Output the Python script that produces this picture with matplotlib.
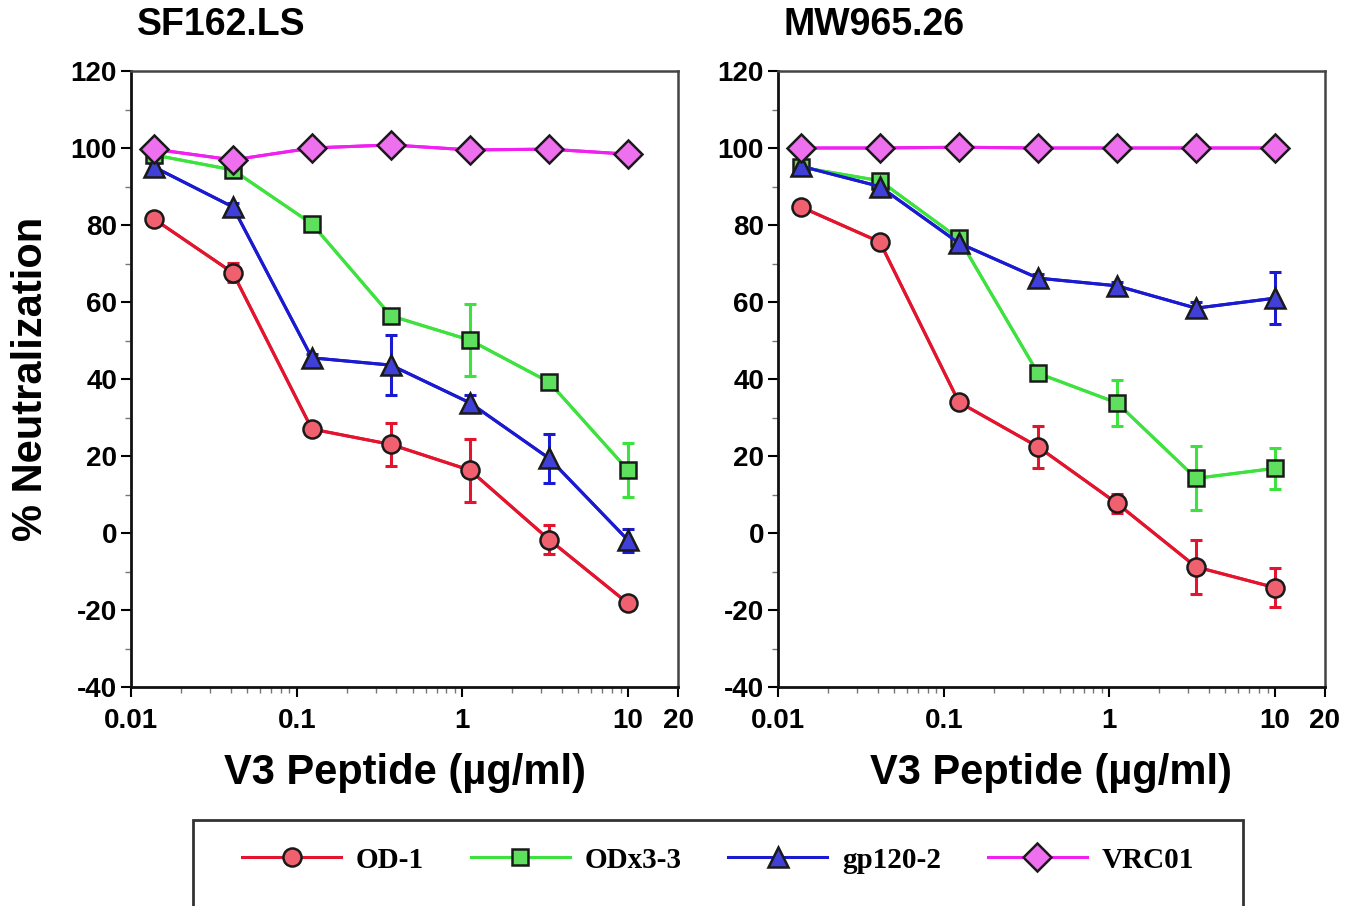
import matplotlib
matplotlib.use("Agg")
import matplotlib.pyplot as plt
import matplotlib.patches as mpatches
from matplotlib.ticker import FixedLocator, NullFormatter, FixedFormatter

plt.rcParams["axes.unicode_minus"] = False

# 3-fold dilutions of V3 peptide (ug/ml)
conc = [0.01372, 0.04115, 0.1235, 0.3704, 1.111, 3.333, 10.0]

panels = ["SF162.LS", "MW965.26"]
series = ["OD-1", "ODx3-3", "gp120-2", "VRC01"]

# SF162.LS
sf_od1      = [81.6, 67.6, 27.0, 23.0, 16.3, -1.7, -18.3]
sf_od1_err  = [1.0, 2.5, 1.0, 5.7, 8.2, 3.7, 1.0]
sf_odx      = [98.2, 94.3, 80.3, 56.4, 50.1, 39.2, 16.3]
sf_odx_err  = [1.0, 1.0, 1.0, 1.0, 9.3, 1.0, 7.0]
sf_gp       = [95.1, 84.7, 45.5, 43.6, 33.8, 19.4, -1.9]
sf_gp_err   = [1.0, 1.0, 1.0, 7.8, 2.0, 6.4, 3.0]
sf_vrc      = [99.7, 96.9, 100.0, 100.8, 99.5, 99.7, 98.4]
sf_vrc_err  = [0.5, 0.5, 0.5, 0.5, 0.5, 0.5, 0.5]

# MW965.26
mw_od1      = [84.7, 75.6, 34.0, 22.4, 7.7, -8.8, -14.2]
mw_od1_err  = [1.0, 1.0, 1.0, 5.5, 2.5, 7.0, 5.0]
mw_odx      = [95.0, 91.5, 76.5, 41.5, 33.8, 14.2, 16.8]
mw_odx_err  = [1.0, 1.0, 1.0, 1.0, 6.0, 8.3, 5.3]
mw_gp       = [95.3, 90.0, 75.3, 66.2, 64.2, 58.4, 61.0]
mw_gp_err   = [1.0, 1.0, 1.0, 1.0, 1.0, 1.5, 6.7]
mw_vrc      = [100.0, 100.0, 100.2, 100.0, 100.0, 100.0, 100.0]
mw_vrc_err  = [0.3, 0.3, 0.3, 0.3, 0.3, 0.3, 0.3]

STYLES = {
    "OD-1":    dict(color="#e3142e", marker="o", mfc="#f0606e", ms=13),
    "ODx3-3":  dict(color="#3ee23e", marker="s", mfc="#5ee05e", ms=12),
    "gp120-2": dict(color="#1a1ad0", marker="^", mfc="#4040d8", ms=14),
    "VRC01":   dict(color="#f020f0", marker="D", mfc="#ee70ee", ms=14),
}

data = {
    "SF162.LS": [(sf_od1, sf_od1_err), (sf_odx, sf_odx_err), (sf_gp, sf_gp_err), (sf_vrc, sf_vrc_err)],
    "MW965.26": [(mw_od1, mw_od1_err), (mw_odx, mw_odx_err), (mw_gp, mw_gp_err), (mw_vrc, mw_vrc_err)],
}

SANS = "Liberation Sans"
SERIF = "Liberation Serif"

fig = plt.figure(figsize=(13.57, 9.06), dpi=100)
ax_w = 547 / 1357
ax_h = 616 / 906
ax_b = 1 - 687 / 906
lefts = [131 / 1357, 778 / 1357]

handles = []
for i, name in enumerate(panels):
    ax = fig.add_axes([lefts[i], ax_b, ax_w, ax_h])
    for s, (vals, errs) in zip(series, data[name]):
        st = STYLES[s]
        ax.errorbar(conc, vals, yerr=errs, color=st["color"], lw=2.2,
                    elinewidth=2.2, capsize=4, capthick=2.2, zorder=2)
        ln, = ax.plot(conc, vals, color=st["color"], lw=2.2, marker=st["marker"],
                      ms=st["ms"], mfc=st["mfc"], mec="#1a1a1a", mew=1.8, zorder=3,
                      label=s)
        if i == 0:
            handles.append(ln)
    ax.set_xscale("log")
    ax.set_xlim(0.01, 20)
    ax.set_ylim(-40, 120)
    ax.xaxis.set_major_locator(FixedLocator([0.01, 0.1, 1, 10, 20]))
    ax.xaxis.set_major_formatter(FixedFormatter(["0.01", "0.1", "1", "10", "20"]))
    minors = [m * d for d in (0.01, 0.1, 1) for m in range(2, 10)]
    ax.xaxis.set_minor_locator(FixedLocator(minors))
    ax.xaxis.set_minor_formatter(NullFormatter())
    ax.set_yticks(range(-40, 121, 20))
    ax.yaxis.set_minor_locator(FixedLocator(range(-30, 120, 20)))
    ax.tick_params(which="major", direction="out", length=7, width=1.5,
                   labelsize=20, top=False, right=False, pad=3)
    ax.tick_params(axis="x", which="major", pad=8)
    ax.tick_params(which="minor", direction="out", length=4, width=1.0,
                   top=False, right=False, color="#777777")
    for lab in ax.get_xticklabels() + ax.get_yticklabels():
        lab.set_fontweight("bold")
        lab.set_fontfamily(SANS)
    for sp in ["left", "bottom"]:
        ax.spines[sp].set_linewidth(2.0)
        ax.spines[sp].set_color("#111111")
    for sp in ["top", "right"]:
        ax.spines[sp].set_linewidth(1.8)
        ax.spines[sp].set_color("#444444")
    ax.set_xlabel("V3 Peptide (µg/ml)", fontsize=30, fontweight="bold",
                  family=SANS, labelpad=14)
    ax.text(0.01, 1.045, name, transform=ax.transAxes, fontsize=27,
            fontweight="bold", family=SANS, ha="left", va="bottom")
    if i == 0:
        ax.set_ylabel("% Neutralization", fontsize=30, fontweight="bold",
                      family=SANS, labelpad=14)

# legend box, cut at the bottom edge like the original
box = mpatches.Rectangle((193 / 1357, -0.05), 1050 / 1357, (906 - 820) / 906 + 0.05,
                         transform=fig.transFigure, fill=False, lw=2.0,
                         edgecolor="#333333")
fig.patches.append(box)
fig.legend(handles=handles, loc="center", bbox_to_anchor=(718 / 1357, 1 - 860 / 906),
           ncol=4, frameon=False, handlelength=3.4, columnspacing=1.6,
           handletextpad=0.5, prop=dict(family=SERIF, weight="bold", size=21))

fig.savefig("out.png", dpi=100)
